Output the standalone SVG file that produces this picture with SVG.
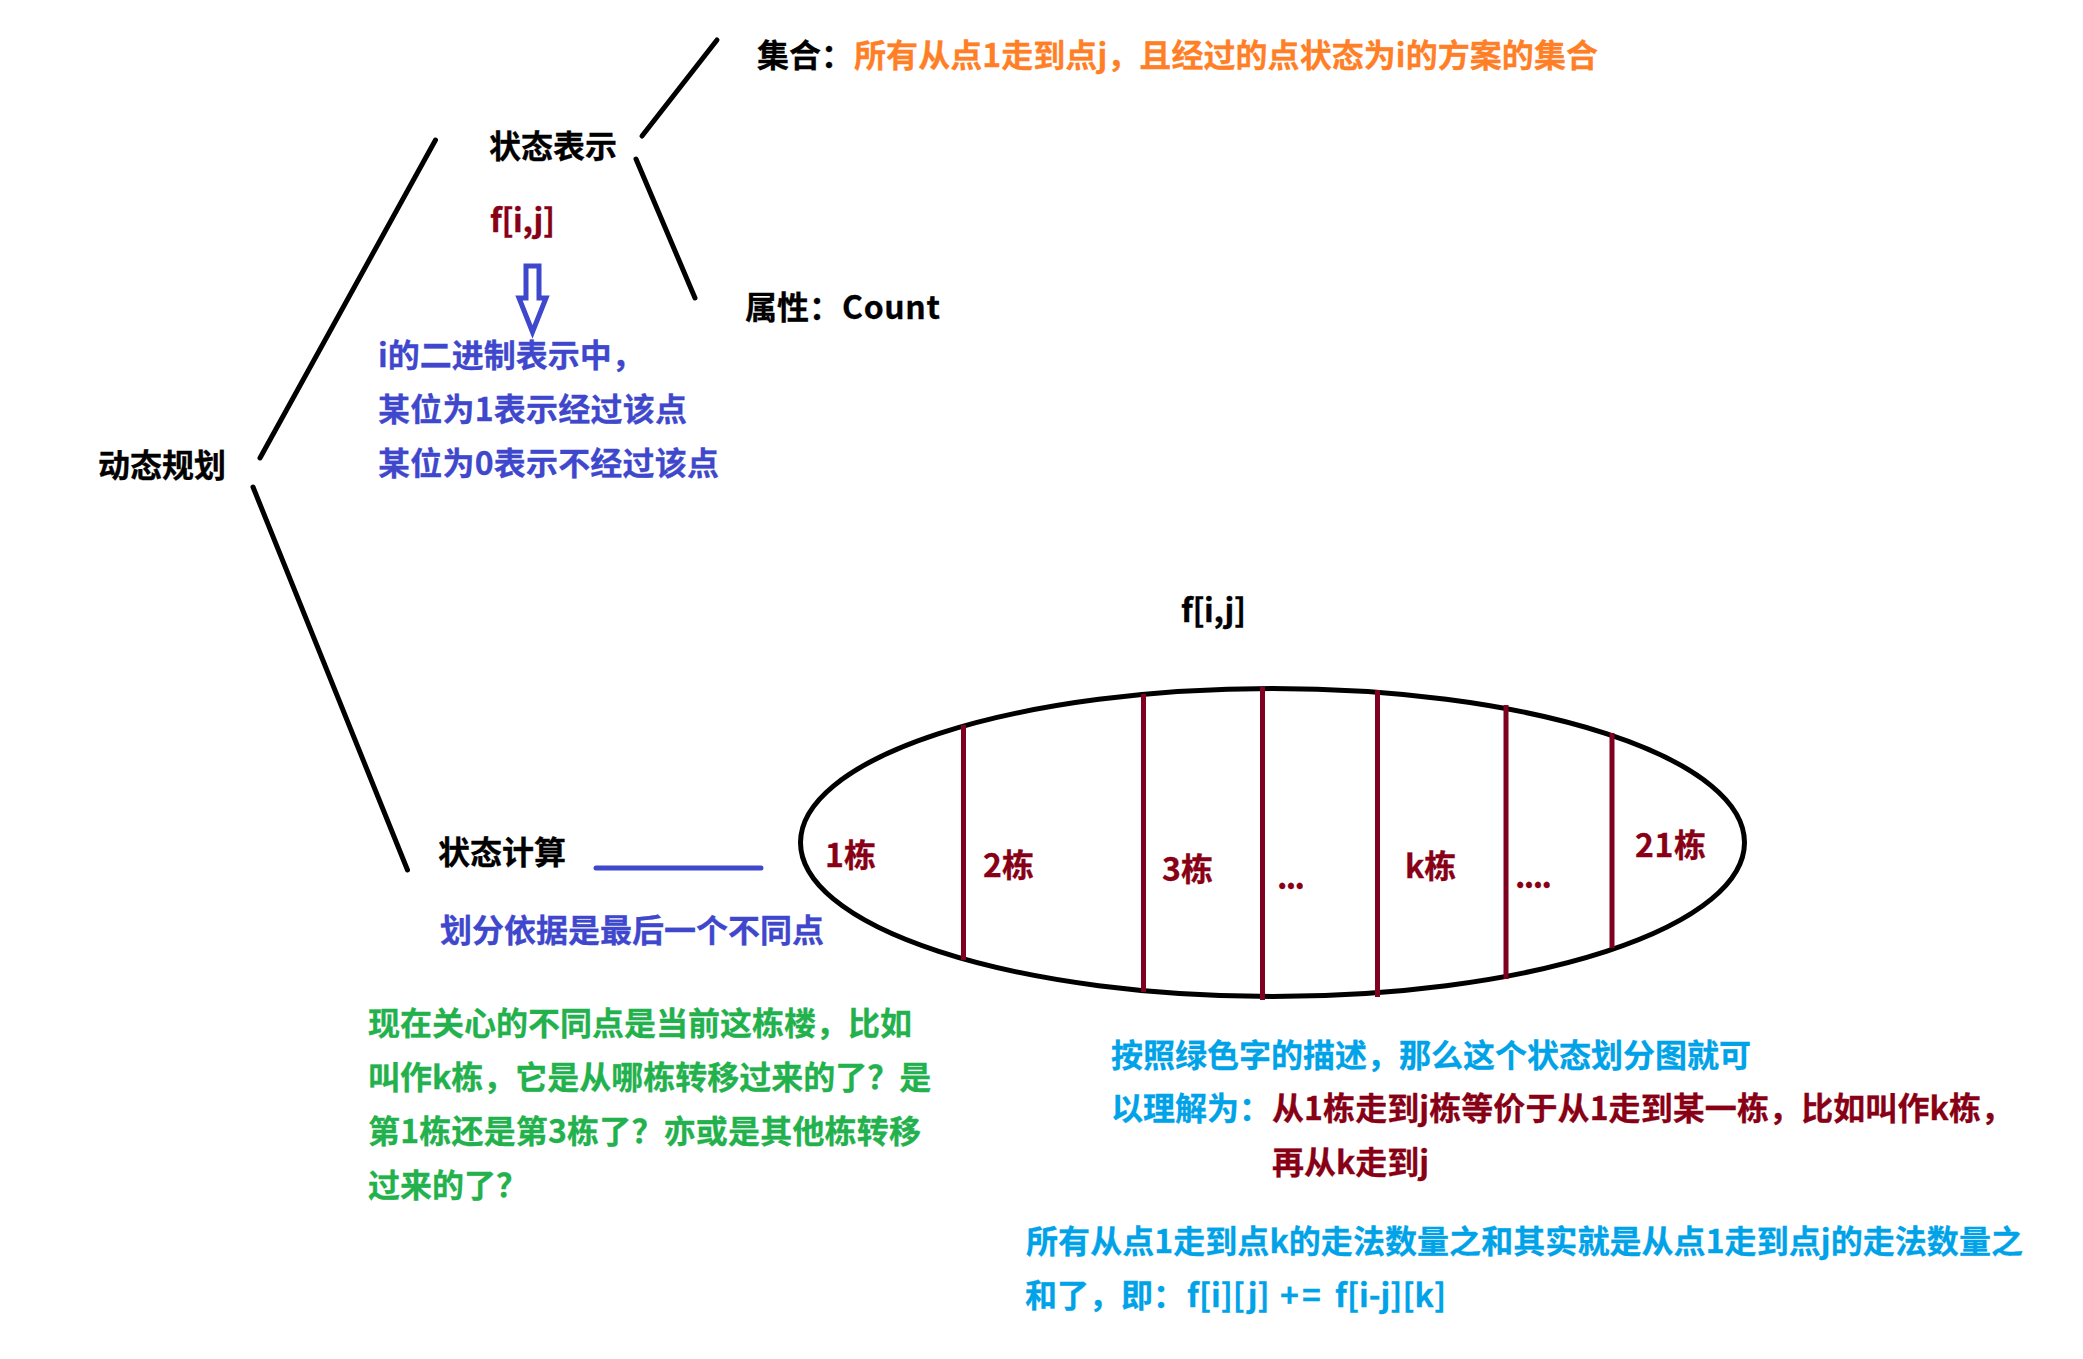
<svg xmlns="http://www.w3.org/2000/svg" width="2083" height="1359" viewBox="0 0 2083 1359">
<style>
text{font-family:"Noto Sans CJK SC","Noto Sans",sans-serif;font-size:32px;font-weight:700;stroke-width:.3}
.k{fill:#000;stroke:#000}.o{fill:#ff7f27;stroke:#ff7f27}.b{fill:#3f48cc;stroke:#3f48cc}.r{fill:#880015;stroke:#880015}.g{fill:#22b14c;stroke:#22b14c}.c{fill:#00a2e8;stroke:#00a2e8}
.l{stroke:#000;stroke-width:5;stroke-linecap:round;fill:none}
.d{stroke:#800020;stroke-width:5;fill:none}
</style>
<rect width="2083" height="1359" fill="#fff"/>
<g id="connectors">
<path class="l" d="M435.500 140L260 458"/>
<path class="l" d="M253 487L407.500 870"/>
<path class="l" d="M717 40L642 136"/>
<path class="l" d="M636 159L695 298"/>
<path d="M596 868H761" stroke="#3f48cc" stroke-width="5" stroke-linecap="round" fill="none"/>
<path d="M526 266H539V298H546L532.500 332L519 298H526Z" fill="none" stroke="#3f48cc" stroke-width="5"/>
</g>
<g id="root"><text class="k" x="98" y="477">动态规划</text></g>
<g id="state-repr"><text class="k" x="489" y="158">状态表示</text><text class="r" x="490" y="232" textLength="65">f[i,j]</text></g>
<g id="set"><text class="k" x="757" y="67">集合：</text><text class="o" x="854" y="67" textLength="744">所有从点1走到点j，且经过的点状态为i的方案的集合</text></g>
<g id="attr"><text class="k" x="745" y="319">属性：</text><text class="k" x="842" y="319" textLength="98">Count</text></g>
<g id="binary"><text class="b" x="378" y="367">i的二进制表示中，</text><text class="b" x="378" y="421" textLength="309">某位为1表示经过该点</text><text class="b" x="378" y="475" textLength="341">某位为0表示不经过该点</text></g>
<g id="state-calc"><text class="k" x="438" y="864">状态计算</text><text class="b" x="440" y="942">划分依据是最后一个不同点</text></g>
<g id="green-note"><text class="g" x="368" y="1035">现在关心的不同点是当前这栋楼，比如</text><text class="g" x="368" y="1089">叫作k栋，它是从哪栋转移过来的了？是</text><text class="g" x="368" y="1143" textLength="553">第1栋还是第3栋了？亦或是其他栋转移</text><text class="g" x="368" y="1197">过来的了？</text></g>
<g id="partition">
<text class="k" x="1181" y="622" textLength="65">f[i,j]</text>
<ellipse cx="1272.500" cy="842.500" rx="472" ry="154" fill="none" stroke="#000" stroke-width="5"/>
<path class="d" d="M963.500 725V960M1143.500 694V992M1262.500 687V1000M1377.500 690V997M1506 705V979M1612 733V948"/>
<text class="r" x="825" y="867">1栋</text><text class="r" x="983" y="877">2栋</text><text class="r" x="1162" y="881">3栋</text><text class="r" x="1277" y="889" textLength="28">...</text><text class="r" x="1515" y="888" textLength="37">....</text><text class="r" x="1405" y="878">k栋</text><text class="r" x="1635" y="857" textLength="71">21栋</text>
</g>
<g id="cyan-note"><text class="c" x="1111" y="1067">按照绿色字的描述，那么这个状态划分图就可</text><text class="c" x="1111" y="1120">以理解为：</text><text class="r" x="1272" y="1120" textLength="741">从1栋走到j栋等价于从1走到某一栋，比如叫作k栋，</text><text class="r" x="1272" y="1174">再从k走到j</text></g>
<g id="sum-note"><text class="c" x="1026" y="1253" textLength="997">所有从点1走到点k的走法数量之和其实就是从点1走到点j的走法数量之</text><text class="c" x="1025" y="1307">和了，即：<tspan x="1187">f[i][j]</tspan><tspan x="1280" letter-spacing="3">+=</tspan><tspan x="1335">f[i-j][k]</tspan></text></g>
</svg>
